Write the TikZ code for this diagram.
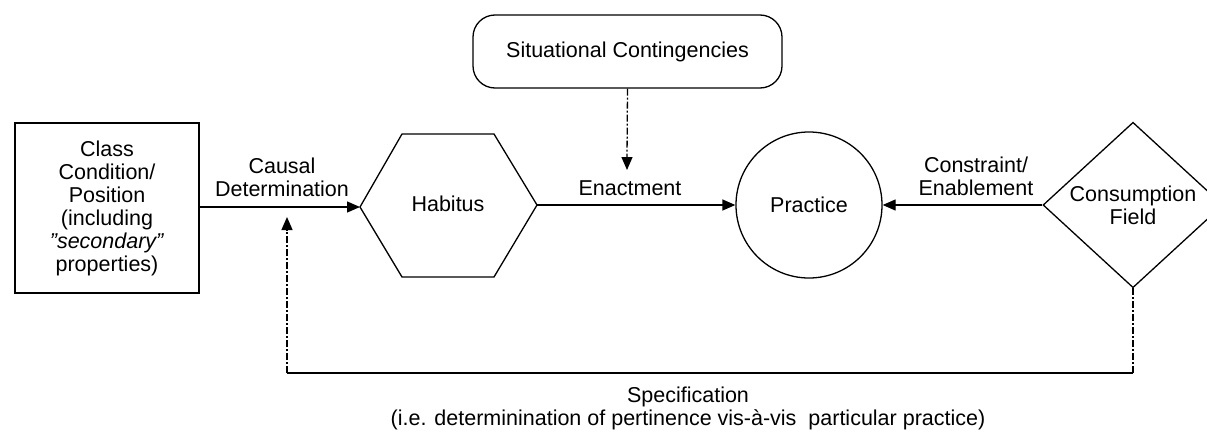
\documentclass[tikz,border=0pt]{standalone}
\usepackage{fontspec}
\setmainfont{Liberation Sans}
\usetikzlibrary{arrows.meta,shapes.geometric,calc}
\begin{document}
\begin{tikzpicture}[x=1pt,y=-1pt,
  every node/.style={font=\fontsize{21.5pt}{23pt}\selectfont, align=center},
  line/.style={line width=1.3pt},
  conn/.style={line width=1.3pt,-{Triangle[length=13pt,width=11pt]}},
  dconn/.style={line width=1.3pt,dash pattern=on 7pt off 2pt on 2pt off 2pt},
  lbl/.style={inner sep=0pt}]
\useasboundingbox (0,0) rectangle (1207,431);
\clip (0,0) rectangle (1207,431);
% nodes
\node[draw,line,rectangle,minimum width=184pt,minimum height=170pt,inner sep=0pt] (class) at (107,208)
  {Class\\Condition/\\Position\\(including\\\textit{\symbol{34}secondary\symbol{34}}\\properties)};
\node[draw,line,rectangle,rounded corners=22pt,minimum width=309pt,minimum height=73pt] (sit) at (627.5,51.5) {Situational Contingencies};
\node (habitus) at (448,204) {Habitus};
\coordinate (hl) at (360,207);
\coordinate (hr) at (537,205);
\draw[line] (hl) -- (402,134) -- (494,134) -- (hr) -- (494,277) -- (402,277) -- cycle;
\node[draw,line,circle,minimum size=146pt,inner sep=0pt] (practice) at (809,205) {Practice};
\node[draw,line,diamond,minimum width=180pt,minimum height=164pt,inner sep=0pt] (cons) at (1133,205) {Consumption\\Field};
% connectors
\draw[conn] (class.east |- hl) -- (hl);
\draw[conn] (hr) -- (practice.west);
\draw[conn] (cons.west) -- (practice.east);
\coordinate (enacttip) at (627,170);
\draw[dconn] (sit.south) -- ($(enacttip)+(0,-12)$);
\draw[conn] ($(enacttip)+(0,-13)$) -- (enacttip);
\coordinate (c1) at (1133,373);
\coordinate (c2) at (287,373);
\coordinate (fbtip) at (287,217);
\draw[dconn] (cons.south) -- (c1);
\draw[line] (c1) -- (c2);
\draw[dconn] (c2) -- ($(fbtip)+(0,12)$);
\draw[conn] ($(fbtip)+(0,13)$) -- (fbtip);
% labels
\node[lbl] (l1) at (282,177) {Causal\\Determination};
\node[lbl] (l2) at (630,188) {Enactment};
\node[lbl] (l3) at (976,176) {Constraint/\\Enablement};
\node[lbl] (l4) at (688,408) {Specification\\(i.e. determinination of pertinence vis-à-vis~ particular practice)};
\end{tikzpicture}
\end{document}
